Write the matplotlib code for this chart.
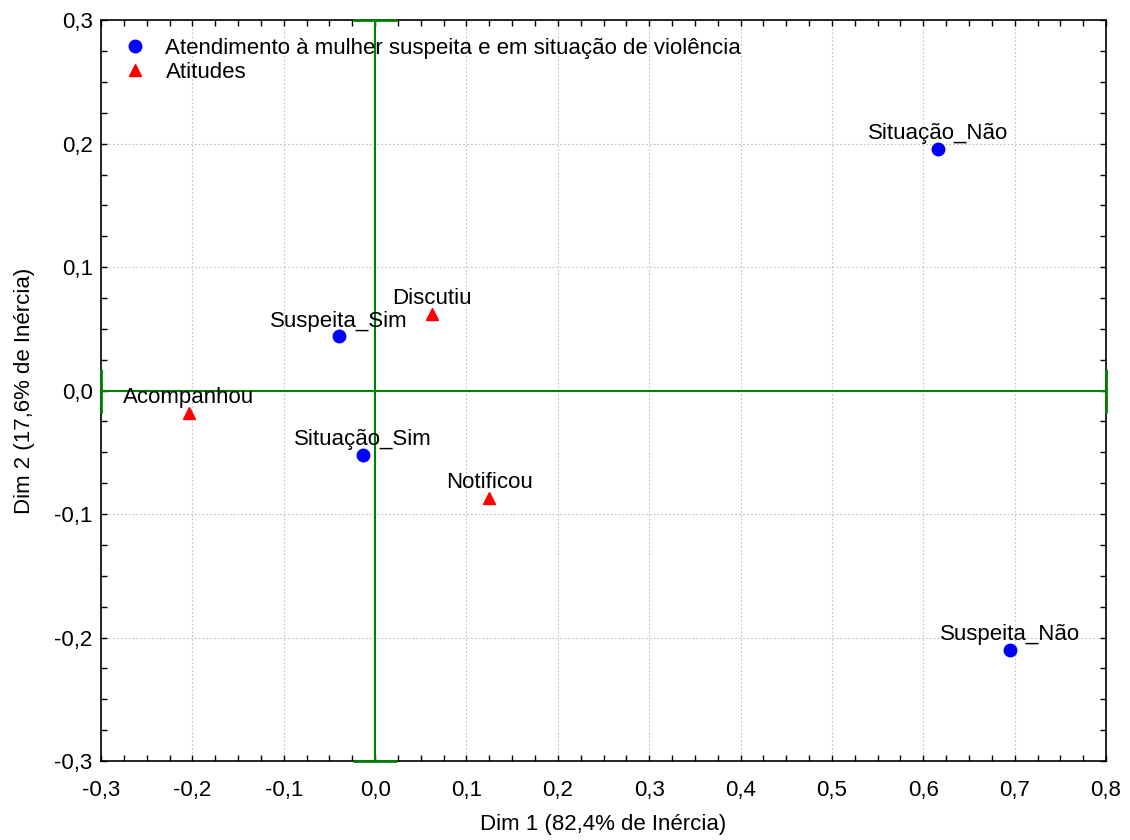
import matplotlib
matplotlib.use("Agg")
import matplotlib.pyplot as plt
from matplotlib.ticker import MultipleLocator, FuncFormatter

plt.rcParams['font.family'] = ['Liberation Sans', 'DejaVu Sans']

# Correspondence analysis coordinates
atend_labels = ["Situação_Não", "Suspeita_Não", "Suspeita_Sim", "Situação_Sim"]
atend_dim1 = [0.616, 0.695, -0.040, -0.013]
atend_dim2 = [0.196, -0.210, 0.044, -0.052]

atit_labels = ["Discutiu", "Acompanhou", "Notificou"]
atit_dim1 = [0.062, -0.204, 0.125]
atit_dim2 = [0.062, -0.018, -0.087]

series_names = ["Atendimento à mulher suspeita e em situação de violência", "Atitudes"]

FS = 16

fig = plt.figure(figsize=(11.3, 8.4), dpi=100)
ax = fig.add_axes([0.0894, 0.094, 0.8894, 0.882])

xmin, xmax, ymin, ymax = -0.3, 0.8, -0.3, 0.3
ax.set_xlim(xmin, xmax)
ax.set_ylim(ymin, ymax)

ax.xaxis.set_major_locator(MultipleLocator(0.1))
ax.xaxis.set_minor_locator(MultipleLocator(0.025))
ax.yaxis.set_major_locator(MultipleLocator(0.1))
ax.yaxis.set_minor_locator(MultipleLocator(0.025))
fmt = FuncFormatter(lambda v, p: f"{v:.1f}".replace(".", ",").replace("-0,0", "0,0"))
ax.xaxis.set_major_formatter(fmt)
ax.yaxis.set_major_formatter(fmt)
ax.tick_params(which='both', direction='in', top=True, right=True, length=4,
               width=1, labelsize=FS)
ax.tick_params(axis='x', pad=14)
ax.tick_params(axis='y', pad=6)

ax.grid(True, which='major', color='#c0c0c0', linestyle=(0, (1.5, 2)), linewidth=0.8)
ax.set_axisbelow(True)
for s in ax.spines.values():
    s.set_linewidth(1.2)

# Origin axes with end caps
green = '#008000'
ax.axhline(0, color=green, lw=1.5, zorder=2)
ax.axvline(0, color=green, lw=1.5, zorder=2)
ax.plot([xmin, xmax], [0, 0], ls='none', marker='|', ms=32, mew=2,
        color=green, clip_on=False, zorder=5)
ax.plot([0, 0], [ymin, ymax], ls='none', marker='_', ms=32, mew=2,
        color=green, clip_on=False, zorder=5)

ax.plot(atend_dim1, atend_dim2, ls='none', marker='o', ms=9, color='#0000ff',
        label=series_names[0], zorder=3)
ax.plot(atit_dim1, atit_dim2, ls='none', marker='^', ms=9, color='#ff0000',
        label=series_names[1], zorder=3)

for lab, x, y in zip(atend_labels + atit_labels, atend_dim1 + atit_dim1,
                     atend_dim2 + atit_dim2):
    ax.annotate(lab, (x, y), xytext=(0, 7), textcoords='offset points',
                ha='center', va='baseline', fontsize=FS, zorder=4)

ax.set_xlabel("Dim 1 (82,4% de Inércia)", fontsize=FS, labelpad=9)
ax.set_ylabel("Dim 2 (17,6% de Inércia)", fontsize=FS, labelpad=14)

ax.legend(loc='upper left', frameon=False, fontsize=FS, handletextpad=0.6,
          borderaxespad=0.4, labelspacing=0.15, handlelength=1.5)

fig.savefig("out.png", dpi=100)
